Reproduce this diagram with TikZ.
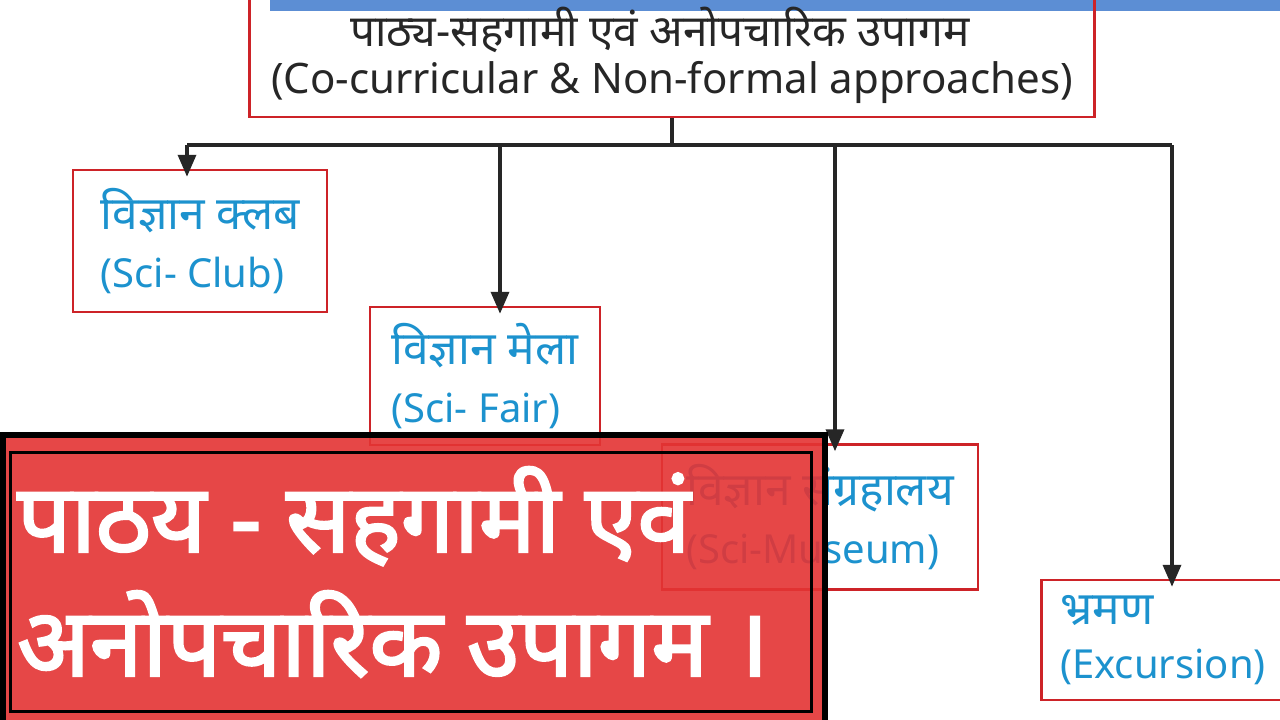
\documentclass[tikz,border=0pt]{standalone}
\usepackage{fontspec}
\newfontfamily\deva[Script=Devanagari]{Noto Sans}
\newfontfamily\devabold[Script=Devanagari,FakeBold=2.5]{Noto Sans}
\usetikzlibrary{positioning,arrows.meta,calc}
\definecolor{inkblue}{RGB}{28,146,206}
\definecolor{penred}{RGB}{205,35,40}
\definecolor{bannerred}{RGB}{228,52,52}
\definecolor{tapeblue}{RGB}{92,142,212}
\newcommand{\hin}[1]{{\fontsize{46}{50}\selectfont #1}}

\begin{document}
\begin{tikzpicture}[
    x=1pt, y=-1pt,
    >={Triangle[length=22pt,width=18pt]},
    card/.style={
        rectangle, draw=penred, line width=2.5pt,
        text=inkblue, inner sep=0pt, align=left,
        font=\deva\fontsize{40}{44}\selectfont
    },
    head/.style={
        rectangle, draw=penred, line width=2.5pt,
        text=black!85, inner sep=0pt, align=center,
        font=\deva
    },
    banner/.style={
        rectangle, draw=black, line width=6pt,
        fill=bannerred, fill opacity=0.9, anchor=north west
    },
    slogan/.style={
        text=white, align=left, inner sep=0pt, anchor=west,
        font=\devabold\fontsize{95}{124}\selectfont
    },
    wire/.style={line width=3.5pt, draw=black!85},
    arrow/.style={->, line width=3.5pt, draw=black!85, shorten >=-8pt}
]

\useasboundingbox (0,0) rectangle (1280,720);
\fill[white] (0,0) rectangle (1280,720);

% blue tape along the top edge
\fill[tapeblue] (270,0) rectangle (1280,11);

% Heading box
\node[head, minimum width=845pt, minimum height=122pt] (title) at (672,56) {};
\node[font=\deva\fontsize{44}{48}\selectfont, text=black!85, inner sep=0pt]
    (titlehi) at (660,30) {पाठ्य-सहगामी एवं अनोपचारिक उपागम};
\node[font=\deva\fontsize{42}{48}\selectfont, text=black!85, inner sep=0pt]
    (titleen) at (672,82) {(Co-curricular \& Non-formal approaches)};

% Branch boxes
\node[card, minimum width=254pt, minimum height=142pt] (club) at (200,241)
    {\hin{विज्ञान क्लब}\\[14pt](Sci- Club)};
\node[card, minimum width=230pt, minimum height=138pt] (fair) at (485,376)
    {\hin{विज्ञान मेला}\\[14pt](Sci- Fair)};
\node[card, minimum width=316pt, minimum height=145pt] (museum) at (820,517)
    {\hin{विज्ञान संग्रहालय}\\[14pt](Sci-Museum)};
\node[card, minimum width=243pt, minimum height=120pt] (tour) at (1163,640)
    {\hin{भ्रमण}\\[10pt](Excursion)};

% Bus line
\coordinate (hub) at (672,145);
\coordinate (busL) at (187,145);
\coordinate (busR) at (1172,145);
\draw[wire] (title.south) -- (hub);
\draw[wire] (busL) -- (busR);

% Drops to each box
\foreach \dst/\col in {club/187, fair/500, museum/835, tour/1172} {
    \coordinate (d\dst) at (\col,145);
    \draw[arrow] (d\dst) -- (d\dst |- \dst.north);
}

% Overlay banner
\node[banner, minimum width=822pt, minimum height=288pt] (plate) at (0,432) {};
\draw[black, line width=3pt] ([shift={(10,20)}]plate.north west)
    rectangle ([shift={(-17,-15)}]plate.south east);
\node[slogan] (caption) at (17,572)
    {पाठय - सहगामी एवं\\अनोपचारिक उपागम ।};

\end{tikzpicture}
\end{document}
